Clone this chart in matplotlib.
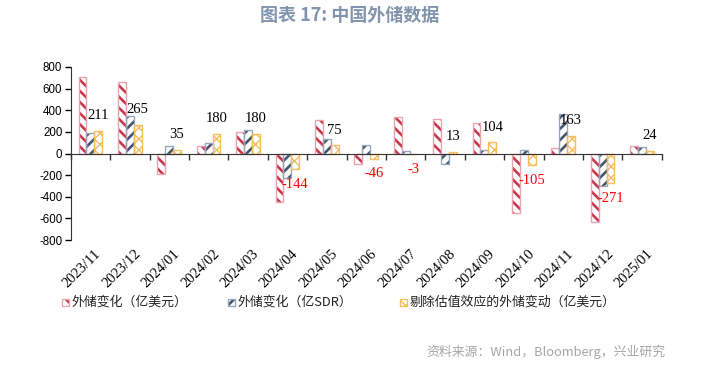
import numpy as np
import matplotlib
matplotlib.use("Agg")
import matplotlib.pyplot as plt
from matplotlib.patches import Rectangle
from matplotlib.transforms import blended_transform_factory

categories = ["2023/11", "2023/12", "2024/01", "2024/02", "2024/03", "2024/04", "2024/05",
              "2024/06", "2024/07", "2024/08", "2024/09", "2024/10", "2024/11", "2024/12", "2025/01"]
usd_change = [704, 662, -186, 66, 200, -447, 309, -97, 340, 319, 281, -550, 47, -634, 66]
sdr_change = [194, 344, 72, 94, 216, -229, 131, 75, 19, -93, 31, 37, 369, -303, 56]
adj_change = [211, 265, 35, 180, 180, -144, 75, -46, -3, 13, 104, -105, 163, -271, 24]
series_names = ["外储变化（亿美元）", "外储变化（亿SDR）", "剔除估值效应的外储变动（亿美元）"]
yticks = [-800, -600, -400, -200, 0, 200, 400, 600, 800]

title = "图表 17: 中国外储数据"
source = "资料来源：Wind，Bloomberg，兴业研究"

cjk = ["Noto Sans CJK SC", "DejaVu Sans"]

plt.rcParams["hatch.linewidth"] = 1.7

styles = [
    dict(hatch="\\\\\\", hc="#C8374D", ec="#EBA3AE", hlw=1.9),
    dict(hatch="///", hc="#44546A", ec="#97A6BA", hlw=1.9),
    dict(hatch="xxx", hc="#F8B64C", ec="#F7BE5A", hlw=0.9),
]

fig = plt.figure(figsize=(7.07, 3.66), dpi=100)
ax = fig.add_axes([0.1, 0.344, 0.836, 0.473])

x = np.arange(len(categories))
w = 0.2
data = [usd_change, sdr_change, adj_change]
for i, (vals, st) in enumerate(zip(data, styles)):
    bars = ax.bar(x + (i - 1) * w, vals, w, color="white", edgecolor=st["hc"],
                  hatch=st["hatch"], linewidth=0, zorder=2)
    for b in bars:
        if hasattr(b, "set_hatch_linewidth"):
            b.set_hatch_linewidth(st["hlw"])
        elif hasattr(b, "_hatch_linewidth"):
            b._hatch_linewidth = st["hlw"]
    ax.bar(x + (i - 1) * w, vals, w, fill=False, edgecolor=st["ec"], linewidth=1.0, zorder=3)

# data labels on the adjusted series
for xi, v in zip(x, adj_change):
    off = 11 if v >= 0 else -11
    ax.annotate(f"{v}", (xi + w, v), xytext=(0, off), textcoords="offset points",
                ha="center", va="center", fontsize=10.5, family="Liberation Serif",
                color="black" if v >= 0 else "#FF0000", zorder=5)

ax.set_xlim(-0.5, len(categories) - 0.5)
ax.set_ylim(-800, 800)
ax.set_yticks(yticks)
ax.set_yticklabels([str(t) for t in yticks], fontsize=8.3, family="Liberation Sans")
ax.tick_params(axis="y", direction="out", length=4, width=1, pad=2)

for s in ["top", "right"]:
    ax.spines[s].set_visible(False)
ax.spines["bottom"].set_position(("data", 0))
ax.spines["bottom"].set_zorder(4)
ax.spines["left"].set_color("#333333")
ax.spines["bottom"].set_color("#333333")
ax.set_xticks(np.arange(-0.5, len(categories), 1))
ax.tick_params(axis="x", direction="out", length=4, width=1, labelbottom=False, color="#333333")

trans = blended_transform_factory(ax.transData, ax.transAxes)
for xi, lab in zip(x, categories):
    ax.text(xi + 0.1, -0.04, lab, transform=trans, rotation=45, rotation_mode="anchor",
            ha="right", va="top", fontsize=10.5, family="Liberation Serif")

# legend
leg_x = [62, 228, 400]
leg_y = 302
for lx, name, st in zip(leg_x, series_names, styles):
    r = Rectangle((lx / 707, 1 - (leg_y + 4) / 366), 7 / 707, 7 / 366, transform=fig.transFigure,
                  facecolor="white", edgecolor=st["hc"], hatch=st["hatch"], linewidth=0)
    if hasattr(r, "set_hatch_linewidth"):
        r.set_hatch_linewidth(st["hlw"])
    elif hasattr(r, "_hatch_linewidth"):
        r._hatch_linewidth = st["hlw"]
    fig.add_artist(r)
    fig.add_artist(Rectangle((lx / 707, 1 - (leg_y + 4) / 366), 7 / 707, 7 / 366, transform=fig.transFigure,
                             fill=False, edgecolor=st["ec"], linewidth=1))
    fig.text((lx + 10) / 707, 1 - leg_y / 366, name, fontsize=9.3, family=cjk, va="center", ha="left",
             color="#222222")

fig.text(0.495, 0.959, title, fontsize=13, fontweight="bold", family=cjk, color="#8294AE",
         ha="center", va="center")
fig.text(665 / 707, 1 - 352 / 366, source, fontsize=9.3, family=cjk, color="#A6A6A6",
         ha="right", va="center")

fig.savefig("out.png", dpi=100)
